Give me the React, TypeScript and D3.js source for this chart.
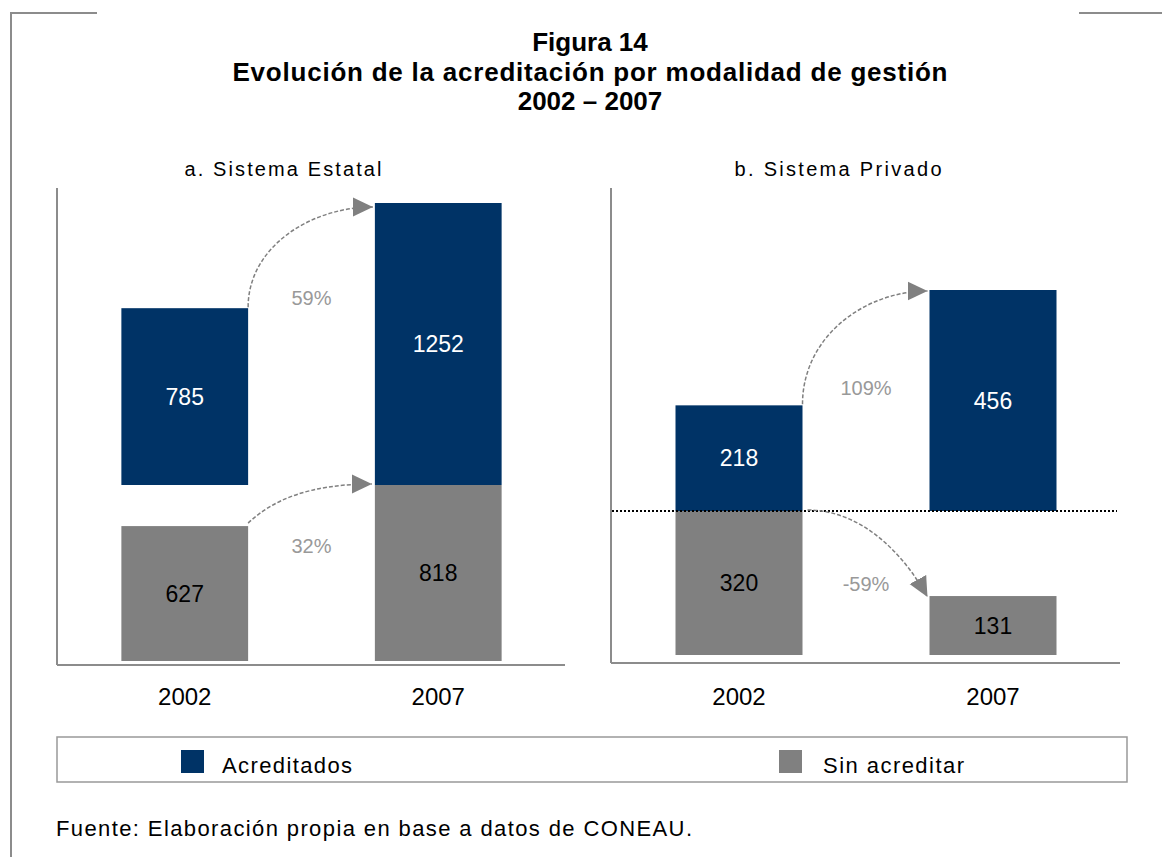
import React from 'react';
import * as d3 from 'd3';

// chart values
const categories = ['2002', '2007'];
const titleLines = ['Figura 14', 'Evolución de la acreditación por modalidad de gestión', '2002 – 2007'];
const panelTitles = ['a. Sistema Estatal', 'b. Sistema Privado'];
const seriesNames = ['Acreditados', 'Sin acreditar'];
const estatalAcreditados = [785, 1252];
const estatalSinAcreditar = [627, 818];
const privadoAcreditados = [218, 456];
const privadoSinAcreditar = [320, 131];
const estatalCambio = ['59%', '32%'];
const privadoCambio = ['109%', '-59%'];
const fuente = 'Fuente: Elaboración propia en base a datos de CONEAU.';

const BLUE = '#003366';
const GRAY = '#808080';
const AXIS = '#8c8c8c';
const FONT = '"Liberation Sans", Arial, sans-serif';

type PanelLayout = {
  left: number;
  right: number;
  axisTop: number;
  axisBottom: number;
  grayBottom: number;
  blueBase: number;
  blueTop: number;
  titleX: number;
  titleW: number;
  dotted: boolean;
};

const layouts: PanelLayout[] = [
  { left: 58, right: 565, axisTop: 188, axisBottom: 665, grayBottom: 661, blueBase: 485, blueTop: 203, titleX: 283, titleW: 197, dotted: false },
  { left: 612, right: 1120, axisTop: 188, axisBottom: 663, grayBottom: 655, blueBase: 511, blueTop: 290, titleX: 838, titleW: 207, dotted: true },
];

type Pt = [number, number];

// quarter-ellipse style curve, leaves going up and arrives horizontally
const risePath = (s: Pt, e: Pt, lean: number) => {
  const dx = e[0] - s[0];
  const dy = s[1] - e[1];
  const p = d3.path();
  p.moveTo(s[0], s[1]);
  p.bezierCurveTo(s[0] + lean * dx, s[1] - 0.6 * dy, e[0] - 0.5 * dx, e[1], e[0], e[1]);
  return p.toString();
};

// leaves horizontally and dives down onto the lower bar
const fallPath = (s: Pt, e: Pt) => {
  const dx = e[0] - s[0];
  const dy = e[1] - s[1];
  const p = d3.path();
  p.moveTo(s[0], s[1]);
  p.bezierCurveTo(s[0] + 0.45 * dx, s[1], e[0] - 0.2 * dx, e[1] - 0.5 * dy, e[0], e[1]);
  return p.toString();
};

const Panel = ({ idx, title, blue, gray, change }: { idx: number; title: string; blue: number[]; gray: number[]; change: string[] }) => {
  const L = layouts[idx];
  const x = d3.scaleBand<string>().domain(categories).range([L.left, L.right]).paddingInner(0.5).paddingOuter(0.25);
  const yGray = d3.scaleLinear().domain([0, d3.max(gray) as number]).range([L.grayBottom, L.blueBase]);
  const yBlue = d3.scaleLinear().domain([0, d3.max(blue) as number]).range([L.blueBase, L.blueTop]);
  const bw = x.bandwidth();
  const axisX = L.left - 1;

  const x0 = (x(categories[0]) as number) + bw;
  const x1 = x(categories[1]) as number;
  const mid = (x0 + x1) / 2;

  const aStart: Pt = [x0, yBlue(blue[0]) - 1];
  const aEnd: Pt = [x1 - 2, yBlue(blue[1]) + (idx === 0 ? 4 : 1)];
  const blueArrow = risePath(aStart, aEnd, 0);

  let grayArrow: string;
  let grayLabelY: number;
  if (gray[1] >= gray[0]) {
    const s: Pt = [x0, yGray(gray[0]) - 3];
    const e: Pt = [x1 - 3, yGray(gray[1]) - 1];
    grayArrow = risePath(s, e, 0.2);
    grayLabelY = s[1] + 22;
  } else {
    const s: Pt = [x0 + 5, L.blueBase - 1];
    const e: Pt = [x1 - 2, yGray(gray[1]) + 1];
    grayArrow = fallPath(s, e);
    grayLabelY = e[1] - 14;
  }
  const blueLabelY = aStart[1] - (idx === 0 ? 10 : 17);

  return (
    <g>
      <text x={L.titleX} y={176} textAnchor="middle" fontSize={20} fontFamily={FONT} fill="#000" textLength={L.titleW}>{title}</text>
      {/* axes */}
      <line x1={axisX} x2={axisX} y1={L.axisTop} y2={L.axisBottom} stroke={AXIS} strokeWidth={2} />
      <line x1={axisX} x2={L.right} y1={L.axisBottom} y2={L.axisBottom} stroke={AXIS} strokeWidth={2} />
      {/* bars */}
      {categories.map((c, i) => {
        const cx = (x(c) as number) + bw / 2;
        return (
          <g key={c}>
            <rect x={x(c)} y={yGray(gray[i])} width={bw} height={L.grayBottom - yGray(gray[i])} fill={GRAY} />
            <rect x={x(c)} y={yBlue(blue[i])} width={bw} height={L.blueBase - yBlue(blue[i])} fill={BLUE} />
            <text x={cx} y={(yBlue(blue[i]) + L.blueBase) / 2 + 8} textAnchor="middle" fontSize={23} fontFamily={FONT} fill="#fff">{blue[i]}</text>
            <text x={cx} y={(yGray(gray[i]) + L.grayBottom) / 2 + 8} textAnchor="middle" fontSize={23} fontFamily={FONT} fill="#000">{gray[i]}</text>
            <text x={cx} y={705} textAnchor="middle" fontSize={24} fontFamily={FONT} fill="#000">{c}</text>
          </g>
        );
      })}
      {L.dotted && (
        <line x1={axisX + 1} x2={L.right - 3} y1={L.blueBase} y2={L.blueBase} stroke="#000" strokeWidth={2} strokeDasharray="2,2" />
      )}
      {/* change arrows */}
      <path d={blueArrow} fill="none" stroke={GRAY} strokeWidth={1.5} strokeDasharray="4,2" markerEnd="url(#arrowHead)" />
      <path d={grayArrow} fill="none" stroke={GRAY} strokeWidth={1.5} strokeDasharray="4,2" markerEnd="url(#arrowHead)" />
      <text x={mid} y={blueLabelY + 8} textAnchor="middle" fontSize={20} fontFamily={FONT} fill="#999">{change[0]}</text>
      <text x={mid} y={grayLabelY + 8} textAnchor="middle" fontSize={20} fontFamily={FONT} fill="#999">{change[1]}</text>
    </g>
  );
};

export default function App() {
  const legendX = d3.scalePoint<string>().domain(seriesNames).range([181, 779]);
  const legendW = [130, 141];
  const titleY = d3.scalePoint<string>().domain(titleLines).range([51, 110]);
  return (
    <svg width={1162} height={857} style={{ position: 'absolute', left: 0, top: 0, background: '#fff' }}>
      <defs>
        <marker id="arrowHead" markerUnits="userSpaceOnUse" markerWidth={22} markerHeight={22} refX={20} refY={10} orient="auto">
          <path d="M0,0.5 L20,10 L0,19.5 Z" fill={GRAY} />
        </marker>
      </defs>
      {/* frame */}
      <path d="M97,13 H11 V857" fill="none" stroke={AXIS} strokeWidth={2} />
      <line x1={1079} x2={1162} y1={13} y2={13} stroke={AXIS} strokeWidth={2} />

      <g fontFamily={FONT} fontWeight="bold" fontSize={26} textAnchor="middle" fill="#000">
        {titleLines.map((t, i) => (
          <text key={t} x={590} y={titleY(t)} textLength={i === 1 ? 715 : undefined}>{t}</text>
        ))}
      </g>

      <Panel idx={0} title={panelTitles[0]} blue={estatalAcreditados} gray={estatalSinAcreditar} change={estatalCambio} />
      <Panel idx={1} title={panelTitles[1]} blue={privadoAcreditados} gray={privadoSinAcreditar} change={privadoCambio} />

      {/* legend */}
      <rect x={57} y={737} width={1070} height={45} fill="none" stroke="#999" strokeWidth={1.5} />
      {seriesNames.map((s, i) => (
        <g key={s}>
          <rect x={legendX(s)} y={750} width={23} height={23} fill={i === 0 ? BLUE : GRAY} />
          <text x={(legendX(s) as number) + 41 + i * 3} y={773} fontSize={22} fontFamily={FONT} fill="#000" textLength={legendW[i]}>{s}</text>
        </g>
      ))}

      <text x={56} y={836} fontSize={22} fontFamily={FONT} fill="#000" textLength={636}>{fuente}</text>
    </svg>
  );
}
